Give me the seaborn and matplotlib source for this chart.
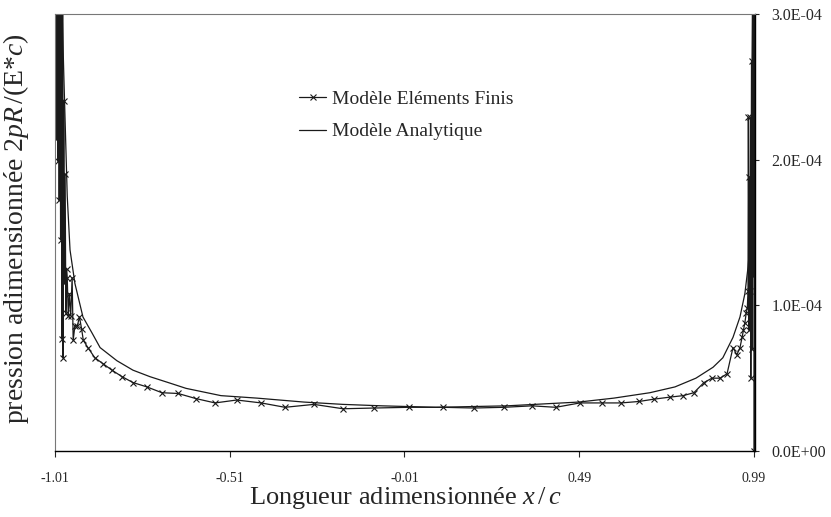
import numpy as np
import pandas as pd
import matplotlib
matplotlib.use("Agg")
import matplotlib.pyplot as plt
import seaborn as sns
from matplotlib.ticker import FuncFormatter

# ----------------------------------
# Data (pressure in units of 1E-04)
# ----------------------------------
fe_x = [-1.008, -1.006, -1.004, -1.002, -1.000, -0.998, -0.996, -0.994,
        -0.992, -0.990, -0.988, -0.987, -0.985, -0.983, -0.981, -0.979,
        -0.977, -0.975, -0.972, -0.969, -0.965, -0.961, -0.958, -0.953,
        -0.946, -0.940, -0.934, -0.929, -0.916, -0.896, -0.873, -0.847,
        -0.818, -0.787, -0.747, -0.704, -0.658, -0.607, -0.552, -0.490,
        -0.420, -0.352, -0.269, -0.186, -0.097, 0.003, 0.100, 0.189,
        0.275, 0.355, 0.423, 0.492, 0.555, 0.610, 0.661, 0.704,
        0.750, 0.787, 0.818, 0.847, 0.870, 0.893, 0.913, 0.930,
        0.941, 0.950, 0.956, 0.960, 0.964, 0.968, 0.971, 0.973,
        0.974, 0.976, 0.977, 0.979, 0.980, 0.981, 0.983, 0.985,
        0.987, 0.988, 0.990, 0.991, 0.992]
fe_p = [3.50, 2.14, 3.50, 1.99, 3.50, 1.72, 3.50, 1.45,
        3.50, 0.77, 3.50, 0.64, 2.40, 1.15, 1.90, 0.95,
        1.25, 1.19, 0.93, 1.08, 0.93, 1.19, 0.76, 0.86,
        0.86, 0.92, 0.84, 0.76, 0.71, 0.64, 0.60, 0.555,
        0.51, 0.47, 0.44, 0.40, 0.395, 0.36, 0.33, 0.35,
        0.33, 0.30, 0.32, 0.29, 0.295, 0.30, 0.30, 0.295,
        0.30, 0.31, 0.30, 0.33, 0.33, 0.33, 0.34, 0.356,
        0.37, 0.38, 0.40, 0.47, 0.50, 0.50, 0.53, 0.71,
        0.66, 0.71, 0.78, 0.83, 0.88, 0.95, 0.98, 1.10,
        2.29, 0.83, 1.88, 1.10, 2.29, 0.50, 2.68, 0.70,
        3.50, 1.20, 3.50, 0.00, 3.50]

an_x = [-0.995, -0.985, -0.975, -0.967, -0.953, -0.930, -0.904, -0.881,
        -0.833, -0.787, -0.738, -0.681, -0.635, -0.535, -0.432, -0.298,
        -0.186, -0.074, 0.080, 0.283, 0.489, 0.589, 0.692, 0.764,
        0.824, 0.873, 0.901, 0.930, 0.950, 0.964, 0.973, 0.981, 0.987]
an_p = [3.50, 2.60, 1.75, 1.38, 1.15, 0.92, 0.81, 0.71,
        0.62, 0.555, 0.51, 0.466, 0.43, 0.38, 0.363, 0.336,
        0.32, 0.31, 0.30, 0.31, 0.336, 0.363, 0.40, 0.44,
        0.50, 0.575, 0.64, 0.78, 0.92, 1.08, 1.26, 1.49, 3.50]

x_ticks = [-1.01, -0.51, -0.01, 0.49, 0.99]
y_ticks = [0.0, 1.0e-4, 2.0e-4, 3.0e-4]
SCALE = 1e-4

fe = pd.DataFrame({"x": fe_x, "p": np.array(fe_p) * SCALE})
an = pd.DataFrame({"x": an_x, "p": np.array(an_p) * SCALE})

# ----------------------------------
# Plot
# ----------------------------------
sns.set_style("white")
plt.rcParams["font.family"] = ["Liberation Serif", "DejaVu Serif"]
plt.rcParams["mathtext.fontset"] = "custom"
plt.rcParams["mathtext.rm"] = "Liberation Serif"
plt.rcParams["mathtext.it"] = "Liberation Serif:italic"

fig = plt.figure(figsize=(8.31, 5.17), dpi=100)
ax = fig.add_axes([55 / 831, 66 / 517, 700 / 831, 437 / 517])

sns.lineplot(data=fe, x="x", y="p", ax=ax, sort=False, estimator=None,
             color="#1a1a1a", lw=0.9, marker="x", markersize=4,
             markeredgewidth=0.8, markeredgecolor="#1a1a1a",
             label="Modèle Eléments Finis")
sns.lineplot(data=an, x="x", y="p", ax=ax, sort=False, estimator=None,
             color="#1a1a1a", lw=0.9, label="Modèle Analytique")

ax.set_xlim(-1.01, 0.993)
ax.set_ylim(0, 3.0e-4)
ax.set_xticks(x_ticks)
ax.set_xticklabels([f"{t:.2f}" for t in x_ticks])
ax.yaxis.tick_right()
ax.set_yticks(y_ticks)
ax.yaxis.set_major_formatter(FuncFormatter(lambda v, _: f"{v:.1E}"))
ax.tick_params(axis="x", direction="out", length=4, width=0.8,
               labelsize=10, pad=11, bottom=True)
ax.tick_params(axis="y", direction="out", length=3, width=0.8,
               labelsize=11.5, pad=9, right=True, left=False)

for side in ["left", "top"]:
    ax.spines[side].set_color("#777777")
    ax.spines[side].set_linewidth(0.8)
ax.spines["bottom"].set_color("black")
ax.spines["right"].set_color("black")
ax.spines["bottom"].set_linewidth(1.0)
ax.spines["right"].set_linewidth(1.0)

ax.set_xlabel("Longueur adimensionnée $x\\,/\\,c$", fontsize=19, labelpad=0)
ax.set_ylabel("pression adimensionnée $2pR\\,/$(E*$c$)", fontsize=20)
ax.yaxis.set_label_position("left")
ax.yaxis.set_label_coords(-0.034, 0.51)

ax.legend(loc="upper left", bbox_to_anchor=(0.335, 0.847), frameon=False,
          fontsize=14, handlelength=1.4, handletextpad=0.3,
          labelspacing=0.75, borderpad=0)

fig.savefig("out.png", dpi=100)
